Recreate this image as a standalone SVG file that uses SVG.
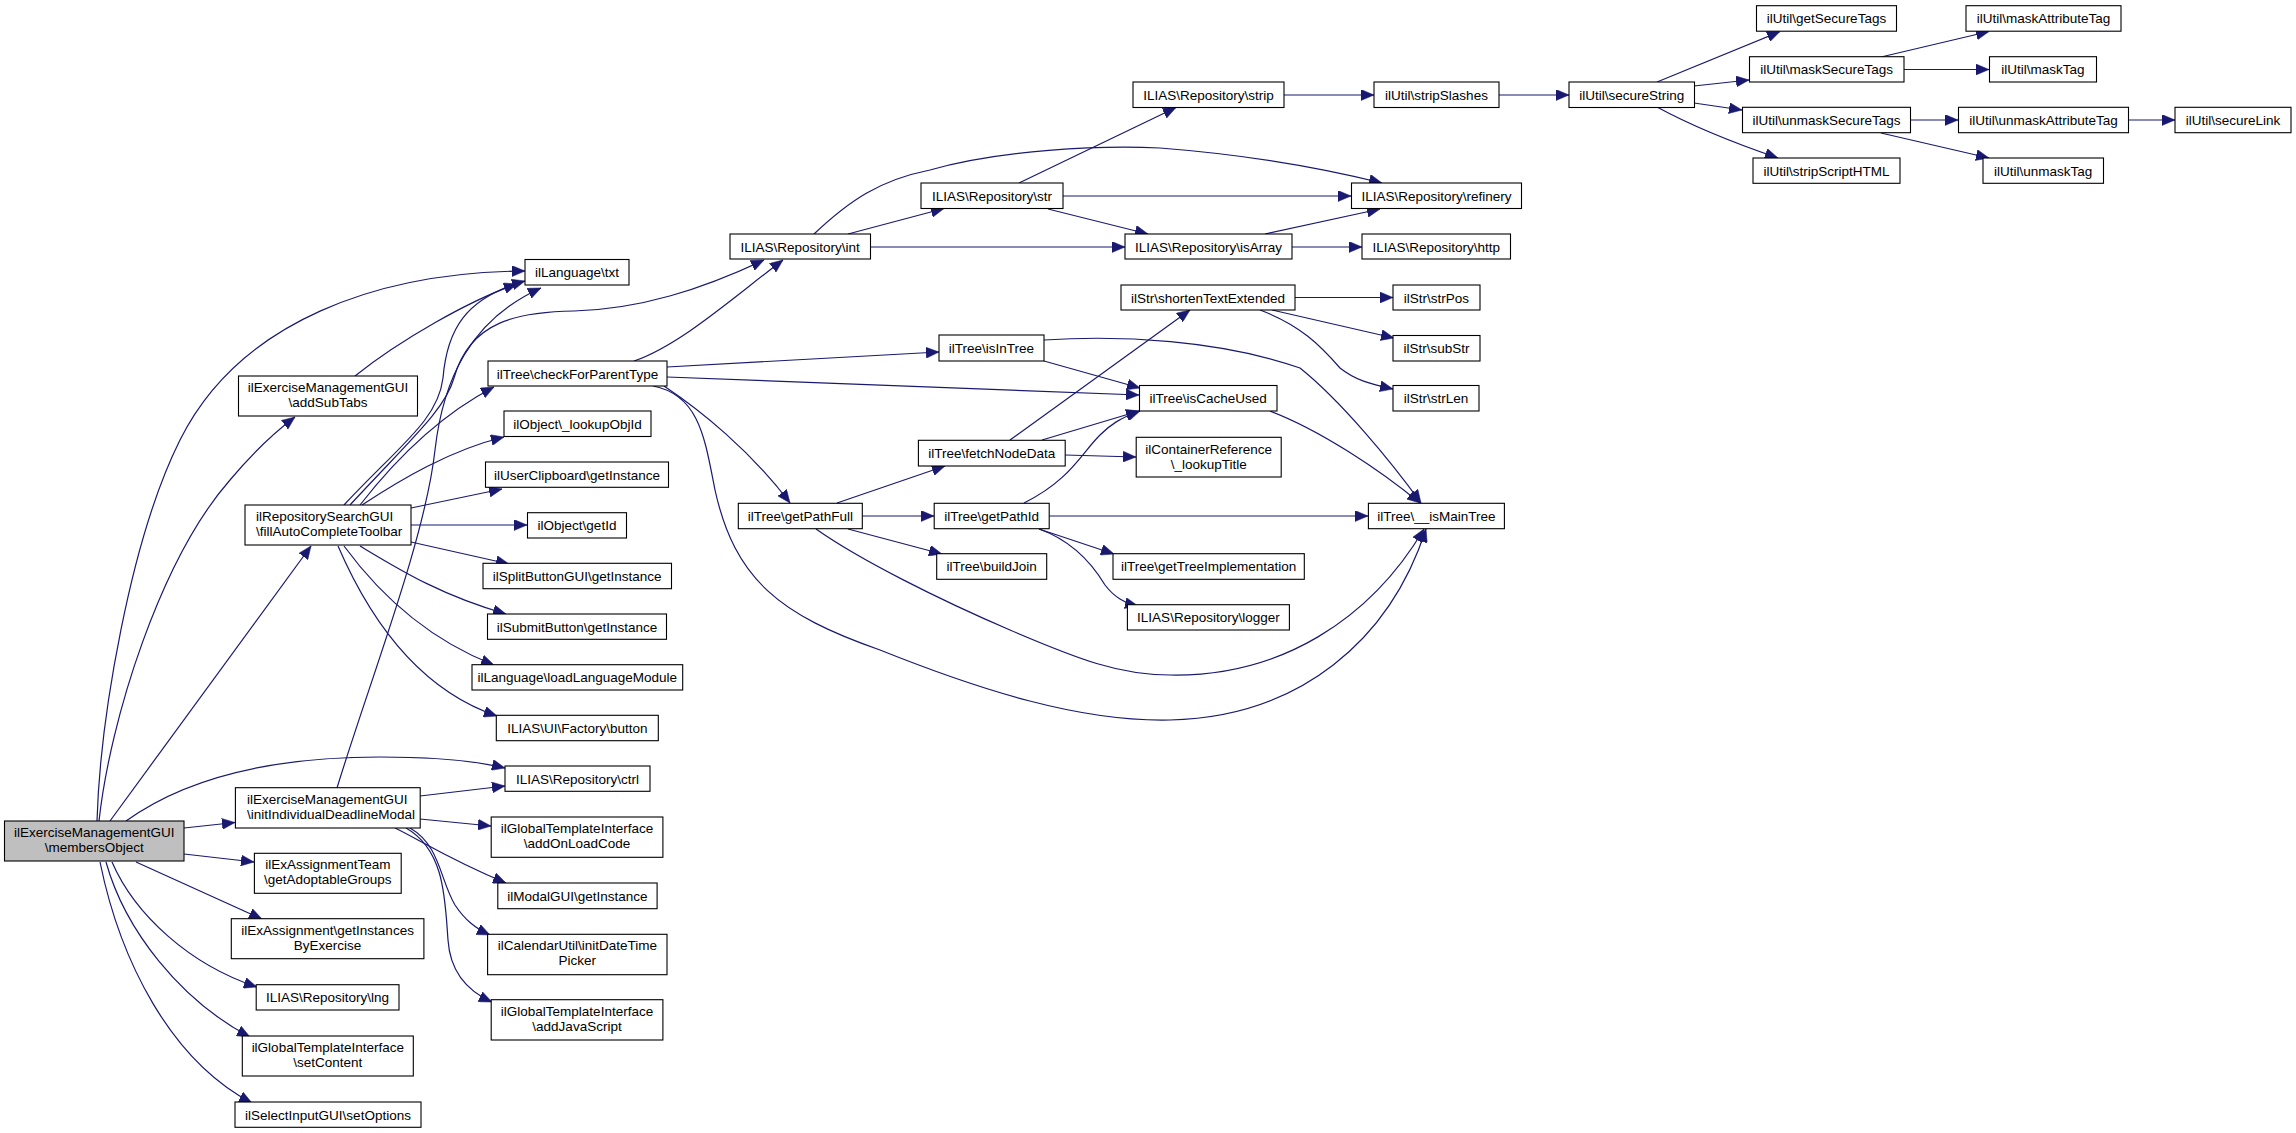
<svg xmlns="http://www.w3.org/2000/svg" width="2296" height="1133" viewBox="0 0 2296 1133">
<style>
.n rect{fill:#ffffff;stroke:#000000;stroke-width:1.1}
.n.main rect{fill:#bfbfbf}
text{font-family:"Liberation Sans",Arial,Helvetica,sans-serif;font-size:13.5px;text-anchor:middle;fill:#000}
text.l{text-anchor:start}
.e path{fill:none;stroke:#191970;stroke-width:1.2;marker-end:url(#ah)}
</style>
<defs>
<marker id="ah" markerUnits="userSpaceOnUse" markerWidth="13" markerHeight="11" refX="13" refY="5.5" orient="auto">
<path d="M0,0 L13,5.5 L0,11 z" fill="#191970" stroke="#191970" stroke-width="0.5"/>
</marker>
</defs>
<rect x="0" y="0" width="2296" height="1133" fill="#ffffff"/>
<g id="edges" class="e">
<path d="M97,821 C100,720 130,540 180,440 C240,320 380,272 525,271"/>
<path d="M99,821 C110,720 160,560 230,480 C255,450 275,432 295,417"/>
<path d="M110,821 L311,546"/>
<path d="M126,821 C190,775 280,757 380,757 C440,757 480,762 505,768"/>
<path d="M184,828 L235,822.5"/>
<path d="M184,854 L254,862"/>
<path d="M136,862 L262,919"/>
<path d="M112,862 C135,915 190,965 257,987"/>
<path d="M106,862 C125,930 180,1000 250,1037"/>
<path d="M100,862 C120,960 170,1060 252,1103"/>
<path d="M355,376 C400,340 470,300 517,284"/>
<path d="M344,505 C400,445 438,420 443,378 C447,330 465,298 525,281"/>
<path d="M337,788 C370,680 425,540 435,450 C443,380 470,320 541,288"/>
<path d="M350,505 C410,440 445,410 454,378 C470,320 520,312 574,311 C640,309 700,290 764,260"/>
<path d="M360,505 C395,460 440,415 494,387"/>
<path d="M362,505 C400,480 450,450 504,437"/>
<path d="M411,508 L502,489"/>
<path d="M411,525 L527,525"/>
<path d="M411,542 L509,564"/>
<path d="M360,546 C400,570 440,595 506,614"/>
<path d="M344,546 C380,595 430,640 494,665"/>
<path d="M338,546 C370,620 420,690 497,716"/>
<path d="M634,361 C680,345 730,300 783,260"/>
<path d="M667,367 L939,352"/>
<path d="M667,377 L1139,395"/>
<path d="M664,386 C700,410 750,450 790,503"/>
<path d="M653,386 C700,395 705,440 715,490 C735,580 780,615 880,650 C980,690 1080,722 1170,720 C1300,717 1390,640 1426,529"/>
<path d="M848,234 L944,208.5"/>
<path d="M814,234 C850,200 880,180 930,170 C1000,150 1100,145 1160,148 C1250,155 1330,170 1382,183"/>
<path d="M870,247 L1125,247"/>
<path d="M1019,183 L1176,107.5"/>
<path d="M1063,196 L1351,196"/>
<path d="M1048,209 L1148,234"/>
<path d="M1284,95 L1374,95"/>
<path d="M1499,95 L1569,95"/>
<path d="M1657,82 L1780,31.5"/>
<path d="M1694,86 L1749,80"/>
<path d="M1694,103 L1742,110"/>
<path d="M1657,107 C1690,125 1740,145 1778,158"/>
<path d="M1881,57 L1989,31.5"/>
<path d="M1904,69.5 L1989,69.5"/>
<path d="M1910,120 L1958,120"/>
<path d="M1881,133 L1989,158"/>
<path d="M2128,120 L2175,120"/>
<path d="M1265,234 L1380,209"/>
<path d="M1292,247 L1362,247"/>
<path d="M1295,297.5 L1393,297.5"/>
<path d="M1272,310 L1394,338"/>
<path d="M1260,310 C1300,325 1320,345 1340,368 C1355,380 1370,384 1393,389"/>
<path d="M1044,340 C1120,335 1220,340 1300,368 C1340,400 1390,460 1421,503"/>
<path d="M1044,361 L1140,388"/>
<path d="M1010,440 L1190,310"/>
<path d="M1042,440 L1139,411"/>
<path d="M1065,455 L1136,457"/>
<path d="M837,503 L945,466"/>
<path d="M862,516 L934,516"/>
<path d="M848,529 L942,554"/>
<path d="M816,529 C860,560 940,600 1010,630 C1080,660 1120,675 1170,675 C1280,677 1370,620 1424,529"/>
<path d="M1024,503 C1070,480 1080,455 1100,435 C1110,425 1120,418 1140,411"/>
<path d="M1049,516 L1368,516"/>
<path d="M1039,529 L1114,554"/>
<path d="M1039,529 C1070,540 1090,560 1105,585 C1115,598 1125,603 1138,606"/>
<path d="M1270,411 C1320,430 1380,470 1420,503"/>
<path d="M420,796 L505,786"/>
<path d="M420,819 L491,826"/>
<path d="M395,828 C420,840 450,860 506,883"/>
<path d="M410,828 C440,845 440,880 455,905 C465,920 475,928 490,935"/>
<path d="M406,828 C445,850 445,900 448,940 C450,970 465,990 492,1002"/>
</g>
<g id="n_membersObject" class="n main"><rect x="4.5" y="821" width="179.5" height="40"/><text x="94.2" y="837">ilExerciseManagementGUI</text><text x="94.2" y="852">\membersObject</text></g>
<g id="n_txt" class="n"><rect x="525" y="259.5" width="104" height="25.5"/><text x="577" y="277">ilLanguage\txt</text></g>
<g id="n_addSubTabs" class="n"><rect x="238.5" y="376" width="179" height="40"/><text x="328" y="392">ilExerciseManagementGUI</text><text x="328" y="407">\addSubTabs</text></g>
<g id="n_fillAuto" class="n"><rect x="245" y="505" width="166" height="40"/><text class="l" x="256" y="521">ilRepositorySearchGUI</text><text class="l" x="256" y="536">\fillAutoCompleteToolbar</text></g>
<g id="n_checkForParentType" class="n"><rect x="488" y="361" width="179" height="25"/><text x="577.5" y="378.5">ilTree\checkForParentType</text></g>
<g id="n_int" class="n"><rect x="730" y="234" width="140.5" height="25"/><text x="800.2" y="251.5">ILIAS\Repository\int</text></g>
<g id="n_str" class="n"><rect x="921" y="183" width="142" height="25.5"/><text x="992" y="200.5">ILIAS\Repository\str</text></g>
<g id="n_strip" class="n"><rect x="1133" y="82" width="151" height="25.5"/><text x="1208.5" y="99.5">ILIAS\Repository\strip</text></g>
<g id="n_isArray" class="n"><rect x="1125" y="234" width="167" height="25"/><text x="1208.5" y="251.5">ILIAS\Repository\isArray</text></g>
<g id="n_shortenTextExtended" class="n"><rect x="1121" y="285" width="174" height="25"/><text x="1208" y="302.5">ilStr\shortenTextExtended</text></g>
<g id="n_isInTree" class="n"><rect x="939" y="335" width="105" height="26"/><text x="991.5" y="353">ilTree\isInTree</text></g>
<g id="n_isCacheUsed" class="n"><rect x="1139.5" y="385.5" width="137.5" height="25.5"/><text x="1208.2" y="403">ilTree\isCacheUsed</text></g>
<g id="n_stripSlashes" class="n"><rect x="1374" y="82" width="125" height="25.5"/><text x="1436.5" y="99.5">ilUtil\stripSlashes</text></g>
<g id="n_secureString" class="n"><rect x="1569" y="82" width="125.5" height="25.5"/><text x="1631.7" y="99.5">ilUtil\secureString</text></g>
<g id="n_refinery" class="n"><rect x="1351.5" y="183" width="170" height="25.5"/><text x="1436.5" y="200.5">ILIAS\Repository\refinery</text></g>
<g id="n_http" class="n"><rect x="1362" y="234" width="148.5" height="25"/><text x="1436.2" y="251.5">ILIAS\Repository\http</text></g>
<g id="n_strPos" class="n"><rect x="1393" y="285" width="87" height="25"/><text x="1436.5" y="302.5">ilStr\strPos</text></g>
<g id="n_subStr" class="n"><rect x="1393" y="335.5" width="87" height="25.5"/><text x="1436.5" y="353">ilStr\subStr</text></g>
<g id="n_strLen" class="n"><rect x="1393" y="385.5" width="86" height="25.5"/><text x="1436" y="403">ilStr\strLen</text></g>
<g id="n_getSecureTags" class="n"><rect x="1756.5" y="5.7" width="140" height="25.5"/><text x="1826.5" y="23.2">ilUtil\getSecureTags</text></g>
<g id="n_maskAttributeTag" class="n"><rect x="1966" y="5.7" width="155" height="25.5"/><text x="2043.5" y="23.2">ilUtil\maskAttributeTag</text></g>
<g id="n_maskSecureTags" class="n"><rect x="1749.5" y="56.7" width="154.5" height="25.3"/><text x="1826.7" y="74.2">ilUtil\maskSecureTags</text></g>
<g id="n_maskTag" class="n"><rect x="1989.5" y="56.7" width="107" height="25.3"/><text x="2043" y="74.2">ilUtil\maskTag</text></g>
<g id="n_unmaskSecureTags" class="n"><rect x="1742.5" y="107.3" width="168" height="25.4"/><text x="1826.5" y="124.8">ilUtil\unmaskSecureTags</text></g>
<g id="n_unmaskAttributeTag" class="n"><rect x="1958.5" y="107.3" width="170" height="25.4"/><text x="2043.5" y="124.8">ilUtil\unmaskAttributeTag</text></g>
<g id="n_secureLink" class="n"><rect x="2175" y="107.3" width="116" height="25.4"/><text x="2233" y="124.8">ilUtil\secureLink</text></g>
<g id="n_stripScriptHTML" class="n"><rect x="1753" y="158" width="147" height="25.3"/><text x="1826.5" y="175.5">ilUtil\stripScriptHTML</text></g>
<g id="n_unmaskTag" class="n"><rect x="1983" y="158" width="120.5" height="25.3"/><text x="2043.2" y="175.5">ilUtil\unmaskTag</text></g>
<g id="n_lookupObjId" class="n"><rect x="504" y="411" width="147" height="25.5"/><text x="577.5" y="428.5">ilObject\_lookupObjId</text></g>
<g id="n_userClipboard" class="n"><rect x="485.5" y="462" width="183" height="25.3"/><text x="577" y="479.5">ilUserClipboard\getInstance</text></g>
<g id="n_getId" class="n"><rect x="527.5" y="512.7" width="99" height="25.3"/><text x="577" y="530.2">ilObject\getId</text></g>
<g id="n_splitButton" class="n"><rect x="483" y="563.3" width="188.5" height="25.4"/><text x="577.2" y="580.8">ilSplitButtonGUI\getInstance</text></g>
<g id="n_submitButton" class="n"><rect x="487.5" y="614" width="179" height="25.3"/><text x="577" y="631.5">ilSubmitButton\getInstance</text></g>
<g id="n_loadLanguageModule" class="n"><rect x="472" y="664.7" width="210.7" height="25.3"/><text x="577.3" y="682.2">ilLanguage\loadLanguageModule</text></g>
<g id="n_factoryButton" class="n"><rect x="496.3" y="715.3" width="162" height="25.4"/><text x="577.3" y="732.8">ILIAS\UI\Factory\button</text></g>
<g id="n_getPathFull" class="n"><rect x="738.3" y="503.3" width="124" height="25.4"/><text x="800.3" y="520.8">ilTree\getPathFull</text></g>
<g id="n_fetchNodeData" class="n"><rect x="918.4" y="440.3" width="146.8" height="25.7"/><text x="991.8" y="457.8">ilTree\fetchNodeData</text></g>
<g id="n_getPathId" class="n"><rect x="934.2" y="503.3" width="115" height="25.4"/><text x="991.7" y="520.8">ilTree\getPathId</text></g>
<g id="n_buildJoin" class="n"><rect x="936.7" y="553.7" width="110" height="25.6"/><text x="991.7" y="571.2">ilTree\buildJoin</text></g>
<g id="n_lookupTitle" class="n"><rect x="1136.2" y="437.3" width="145" height="39.7"/><text x="1208.7" y="453.5">ilContainerReference</text><text x="1208.7" y="468.5">\_lookupTitle</text></g>
<g id="n_getTreeImplementation" class="n"><rect x="1113" y="553.7" width="191.3" height="25.6"/><text x="1208.6" y="571.2">ilTree\getTreeImplementation</text></g>
<g id="n_logger" class="n"><rect x="1127.4" y="604.7" width="162" height="25.3"/><text x="1208.4" y="622.2">ILIAS\Repository\logger</text></g>
<g id="n_isMainTree" class="n"><rect x="1368.4" y="503.3" width="136" height="25.4"/><text x="1436.4" y="520.8">ilTree\__isMainTree</text></g>
<g id="n_ctrl" class="n"><rect x="505" y="766" width="145" height="25.3"/><text x="577.5" y="783.5">ILIAS\Repository\ctrl</text></g>
<g id="n_initIndividual" class="n"><rect x="235.4" y="787.7" width="184.8" height="40.3"/><text class="l" x="247" y="803.7">ilExerciseManagementGUI</text><text class="l" x="247" y="818.7">\initIndividualDeadlineModal</text></g>
<g id="n_addOnLoadCode" class="n"><rect x="491.2" y="817" width="171.7" height="40.3"/><text x="577" y="833">ilGlobalTemplateInterface</text><text x="577" y="848">\addOnLoadCode</text></g>
<g id="n_modalGUI" class="n"><rect x="497.8" y="883" width="159.3" height="25.7"/><text x="577.4" y="900.5">ilModalGUI\getInstance</text></g>
<g id="n_initDateTimePicker" class="n"><rect x="487.6" y="934.3" width="179.4" height="40.4"/><text x="577.3" y="950.3">ilCalendarUtil\initDateTime</text><text x="577.3" y="965.3">Picker</text></g>
<g id="n_addJavaScript" class="n"><rect x="491.2" y="999.7" width="171.7" height="40.3"/><text x="577" y="1015.7">ilGlobalTemplateInterface</text><text x="577" y="1030.7">\addJavaScript</text></g>
<g id="n_adoptableGroups" class="n"><rect x="254.4" y="853.3" width="146.8" height="40"/><text x="327.8" y="869.3">ilExAssignmentTeam</text><text x="327.8" y="884.3">\getAdoptableGroups</text></g>
<g id="n_instancesByExercise" class="n"><rect x="231.3" y="918.7" width="192.6" height="40"/><text x="327.6" y="934.7">ilExAssignment\getInstances</text><text x="327.6" y="949.7">ByExercise</text></g>
<g id="n_lng" class="n"><rect x="256.2" y="984.7" width="142.8" height="25.3"/><text x="327.6" y="1002.2">ILIAS\Repository\lng</text></g>
<g id="n_setContent" class="n"><rect x="242.3" y="1036" width="171" height="40"/><text x="327.8" y="1052">ilGlobalTemplateInterface</text><text x="327.8" y="1067">\setContent</text></g>
<g id="n_setOptions" class="n"><rect x="235" y="1102" width="186" height="25.3"/><text x="328" y="1119.5">ilSelectInputGUI\setOptions</text></g>
</svg>
